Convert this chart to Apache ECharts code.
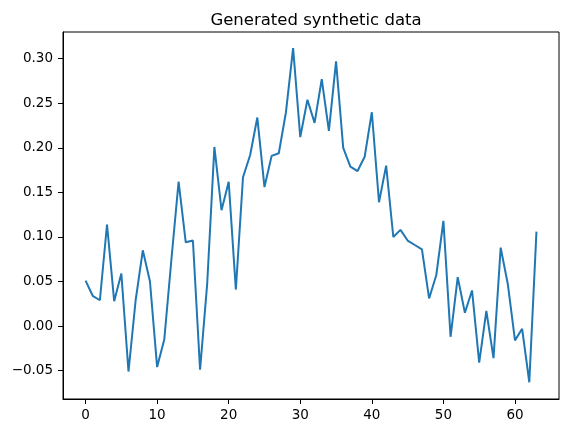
<!DOCTYPE html>
<html>
<head>
<meta charset="utf-8">
<script src="https://cdn.jsdelivr.net/npm/echarts@6/dist/echarts.min.js"></script>
<style>
  html, body { margin: 0; padding: 0; background: #fff; }
  #chart { width: 568px; height: 434px; }
</style>
</head>
<body>
<div id="chart"></div>
<script>
// values, index 0..63
const values = [
  0.051, 0.034, 0.029, 0.114, 0.028, 0.059, -0.051, 0.029, 0.085, 0.050,
  -0.046, -0.015, 0.075, 0.162, 0.094, 0.096, -0.049, 0.048, 0.201, 0.130,
  0.162, 0.041, 0.167, 0.192, 0.234, 0.156, 0.191, 0.194, 0.240, 0.312,
  0.212, 0.254, 0.228, 0.277, 0.219, 0.297, 0.200, 0.179, 0.174, 0.190,
  0.240, 0.139, 0.180, 0.100, 0.108, 0.096, 0.091, 0.086, 0.031, 0.057,
  0.118, -0.012, 0.055, 0.015, 0.040, -0.041, 0.017, -0.036, 0.088, 0.047,
  -0.016, -0.003, -0.063, 0.106
];
const xTicks = [0, 10, 20, 30, 40, 50, 60];
const yTicks = [-0.05, 0.00, 0.05, 0.10, 0.15, 0.20, 0.25, 0.30];

const points = values.map((v, i) => [i, v]);

const chart = echarts.init(document.getElementById('chart'));
const font = 'DejaVu Sans';

chart.setOption({
  animation: false,
  title: {
    text: 'Generated synthetic data',
    left: 311,
    textAlign: 'center',
    top: 7,
    textStyle: { fontFamily: font, fontSize: 16.5, fontWeight: 'normal', color: '#000' }
  },
  grid: {
    left: 63, right: 9, top: 32, bottom: 35,
    show: true, borderColor: '#000', borderWidth: 1, backgroundColor: 'transparent'
  },
  xAxis: {
    type: 'value',
    min: -3.15, max: 66.15,
    axisLine: { show: true, onZero: false, lineStyle: { color: '#000', width: 1 } },
    axisTick: { show: true, length: 5, customValues: xTicks, lineStyle: { color: '#000' } },
    axisLabel: {
      customValues: xTicks, margin: 9,
      fontFamily: font, fontSize: 13.5, color: '#000',
      formatter: v => String(v)
    },
    splitLine: { show: false }
  },
  yAxis: {
    type: 'value',
    min: -0.0818, max: 0.330,
    axisLine: { show: true, onZero: false, lineStyle: { color: '#000', width: 1 } },
    axisTick: { show: true, length: 5, customValues: yTicks, lineStyle: { color: '#000' } },
    axisLabel: {
      customValues: yTicks, margin: 10,
      fontFamily: font, fontSize: 13.5, color: '#000',
      formatter: v => (v < 0 ? '\u2212' : '') + Math.abs(v).toFixed(2)
    },
    splitLine: { show: false }
  },
  series: [{
    type: 'line',
    data: points,
    showSymbol: false,
    symbol: 'none',
    lineStyle: { color: '#1f77b4', width: 2 }
  }]
});
</script>
</body>
</html>
